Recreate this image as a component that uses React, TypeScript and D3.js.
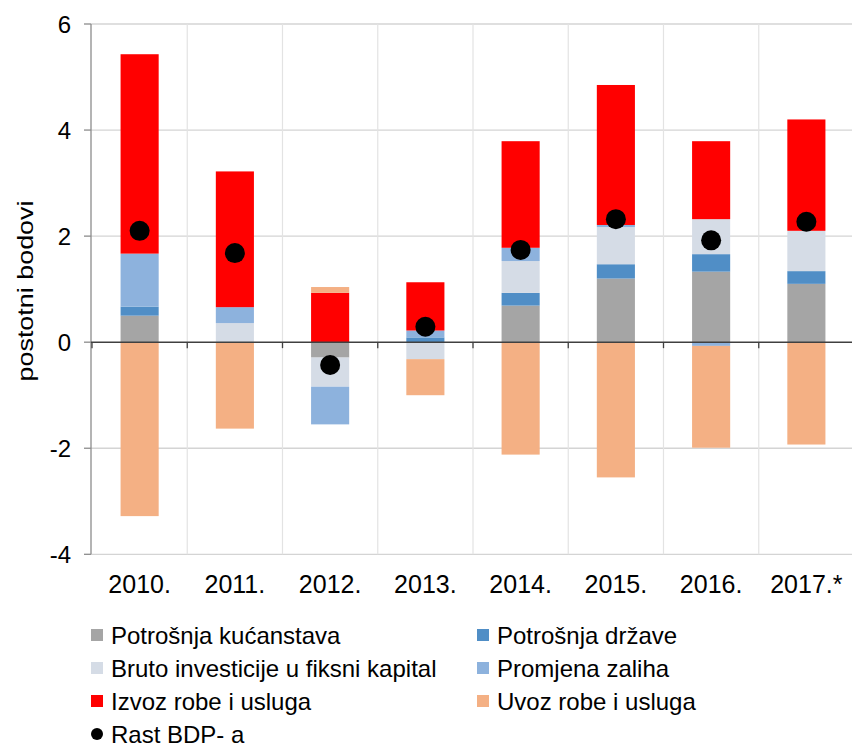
import React from "react";
import * as d3 from "d3";

const years = ["2010.", "2011.", "2012.", "2013.", "2014.", "2015.", "2016.", "2017.*"];

const kucanstva = [0.5, 0.0, -0.29, 0.0, 0.69, 1.2, 1.33, 1.1];
const drzava = [0.17, 0.0, 0.0, 0.09, 0.24, 0.27, 0.33, 0.24];
const investicije = [0.0, 0.36, -0.55, -0.32, 0.6, 0.7, 0.66, 0.76];
const zalihe = [1.0, 0.3, -0.71, 0.13, 0.25, 0.04, -0.07, 0.0];
const izvoz = [3.76, 2.56, 0.93, 0.91, 2.01, 2.64, 1.47, 2.1];
const uvoz = [-3.28, -1.63, 0.11, -0.68, -2.12, -2.55, -1.92, -1.93];
const rastBDP = [2.1, 1.68, -0.43, 0.29, 1.74, 2.32, 1.92, 2.27];

const yTicks = [-4, -2, 0, 2, 4, 6];

const seriesNames = [
  "Potrošnja kućanstava",
  "Potrošnja države",
  "Bruto investicije u fiksni kapital",
  "Promjena zaliha",
  "Izvoz robe i usluga",
  "Uvoz robe i usluga",
];
const seriesValues = [kucanstva, drzava, investicije, zalihe, izvoz, uvoz];
const colors = ["#a5a5a5", "#508ec6", "#d5dce6", "#8db2dd", "#ff0000", "#f4b084"];
const dotLabel = "Rast BDP- a";

const font = "Liberation Sans, Arial, sans-serif";

const App: React.FC = () => {
  const width = 852;
  const height = 754;

  const rows = years.map((year, i) => {
    const row: Record<string, number | string> = { year };
    seriesNames.forEach((name, s) => (row[name] = seriesValues[s][i]));
    return row;
  });

  const stacked = d3
    .stack<Record<string, number | string>>()
    .keys(seriesNames)
    .value((d, key) => d[key] as number)
    .offset(d3.stackOffsetDiverging)(rows);

  const x = d3.scaleBand().domain(years).range([92, 854]).padding(0);
  const y = d3.scaleLinear().domain([-4, 6]).range([554.3, 24]);

  const bw = x.bandwidth();
  const barW = bw * 0.4;

  // legend layout
  const legendItems = seriesNames.map((name, i) => ({
    name,
    color: colors[i],
    col: i % 2,
    row: Math.floor(i / 2),
  }));
  const legendX = [91, 477];
  const legendY = [635, 668, 701, 734];

  return (
    <svg
      width={width}
      height={height}
      style={{ position: "absolute", left: 0, top: 0, background: "#fff" }}
      fontFamily={font}
    >
      {/* horizontal grid */}
      {yTicks
        .filter((t) => t !== 0)
        .map((t) => (
          <line key={t} x1={91} x2={854} y1={y(t)} y2={y(t)} stroke="#d4d4d4" strokeWidth={1.3} />
        ))}
      {/* vertical grid */}
      {years.slice(1).map((yr) => (
        <line key={yr} x1={x(yr)!} x2={x(yr)!} y1={y(6)} y2={y(-4)} stroke="#e3e3e3" strokeWidth={1.2} />
      ))}

      {/* bars */}
      {stacked.map((layer, s) => (
        <g key={layer.key} fill={colors[s]}>
          {layer.map((d, i) => {
            const y0 = y(d[0]);
            const y1 = y(d[1]);
            return (
              <rect
                key={i}
                x={x(years[i])! + (bw - barW) / 2}
                y={Math.min(y0, y1)}
                width={barW}
                height={Math.abs(y0 - y1)}
              />
            );
          })}
        </g>
      ))}

      {/* y axis */}
      <line x1={91} x2={91} y1={y(6)} y2={y(-4)} stroke="#8c8c8c" strokeWidth={1.3} />
      {yTicks.map((t) => (
        <g key={t}>
          <line x1={84} x2={91} y1={y(t)} y2={y(t)} stroke="#8c8c8c" strokeWidth={1.3} />
          <text x={71} y={y(t)} dy="0.36em" textAnchor="end" fontSize={24} fill="#000">
            {t}
          </text>
        </g>
      ))}

      {/* zero line with ticks */}
      <line x1={91} x2={854} y1={y(0)} y2={y(0)} stroke="#404040" strokeWidth={1.6} />
      {years.map((yr) => (
        <line key={yr} x1={x(yr)!} x2={x(yr)!} y1={y(0)} y2={y(0) + 6} stroke="#404040" strokeWidth={1.3} />
      ))}

      {/* GDP dots */}
      {rastBDP.map((v, i) => (
        <circle key={i} cx={x(years[i])! + bw / 2} cy={y(v)} r={10} fill="#000" />
      ))}

      {/* x labels */}
      {years.map((yr) => (
        <text key={yr} x={x(yr)! + bw / 2} y={593} textAnchor="middle" fontSize={25} fill="#000">
          {yr}
        </text>
      ))}

      {/* y title */}
      <text
        transform={`translate(33, 291) rotate(-90)`}
        textAnchor="middle"
        fontSize={22}
        textLength={181}
        lengthAdjust="spacingAndGlyphs"
        fill="#000"
      >
        postotni bodovi
      </text>

      {/* legend */}
      {legendItems.map((it) => (
        <g key={it.name} transform={`translate(${legendX[it.col]}, ${legendY[it.row]})`}>
          <rect x={0} y={-6} width={12} height={12} fill={it.color} />
          <text x={20} y={0} dy="0.36em" fontSize={24} fill="#000">
            {it.name}
          </text>
        </g>
      ))}
      <g transform={`translate(${legendX[0]}, ${legendY[3]})`}>
        <circle cx={6} cy={0} r={6} fill="#000" />
        <text x={20} y={0} dy="0.36em" fontSize={24} fill="#000">
          {dotLabel}
        </text>
      </g>
    </svg>
  );
};

export default App;
